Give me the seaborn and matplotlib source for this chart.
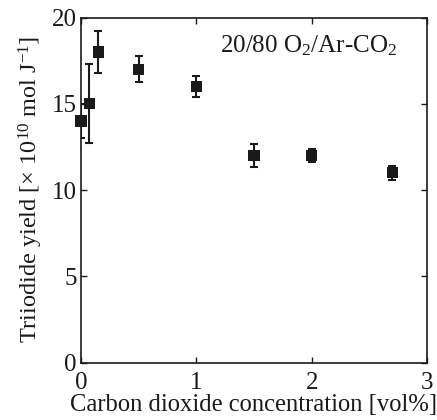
import numpy as np
import pandas as pd
import matplotlib
matplotlib.use("Agg")
import matplotlib.pyplot as plt
import seaborn as sns

# CO2 concentration [vol%] and triiodide yield with error
co2 = [0.0, 0.07, 0.15, 0.5, 1.0, 1.5, 2.0, 2.7]
yield_vals = [14.0, 15.0, 18.0, 17.0, 16.0, 12.0, 12.0, 11.0]
yield_err = [1.0, 2.3, 1.2, 0.75, 0.6, 0.65, 0.4, 0.4]

x_ticks = [0, 1, 2, 3]
y_ticks = [0, 5, 10, 15, 20]

sns.set_style("ticks")
plt.rcParams["font.family"] = ["Liberation Serif", "DejaVu Serif"]
plt.rcParams["mathtext.fontset"] = "custom"
plt.rcParams["mathtext.rm"] = "Liberation Serif"
plt.rcParams["mathtext.it"] = "Liberation Serif:italic"
plt.rcParams["mathtext.default"] = "rm"

df = pd.DataFrame({"co2": co2, "y": yield_vals, "err": yield_err})

fig = plt.figure(figsize=(4.37, 4.2), dpi=100)
ax = fig.add_axes([81 / 437, 1 - 362.5 / 420, 346 / 437, 345 / 420])

ax.errorbar(df["co2"], df["y"], yerr=df["err"], fmt="none", ecolor="#1a1a1a",
            elinewidth=1.5, capsize=3.2, capthick=1.5, zorder=2)
sns.scatterplot(data=df, x="co2", y="y", marker="s", s=64, color="#1a1a1a",
                edgecolor="none", ax=ax, zorder=3, clip_on=False)

ax.set_xlim(0, 3)
ax.set_ylim(0, 20)
ax.set_xticks(x_ticks)
ax.set_yticks(y_ticks)
ax.tick_params(direction="in", top=True, right=True, length=4, width=1,
               labelsize=18, colors="#1a1a1a")
ax.tick_params(axis="x", pad=7)
ax.tick_params(axis="y", pad=3)
for s in ax.spines.values():
    s.set_linewidth(1.2)
    s.set_color("#1a1a1a")
    s.set_visible(True)

ax.set_xlabel("Carbon dioxide concentration [vol%]", fontsize=17.7, labelpad=0,
              color="#1a1a1a")
ax.set_ylabel(r"Triiodide yield [$\times$ 10$^{10}$ mol J$^{-1}$]", fontsize=17.5,
              labelpad=5, color="#1a1a1a")
ax.text(0.913, 0.955, r"20/80 O$_2$/Ar-CO$_2$", transform=ax.transAxes,
        ha="right", va="top", fontsize=18, color="#1a1a1a")

fig.savefig("out.png", dpi=100)
